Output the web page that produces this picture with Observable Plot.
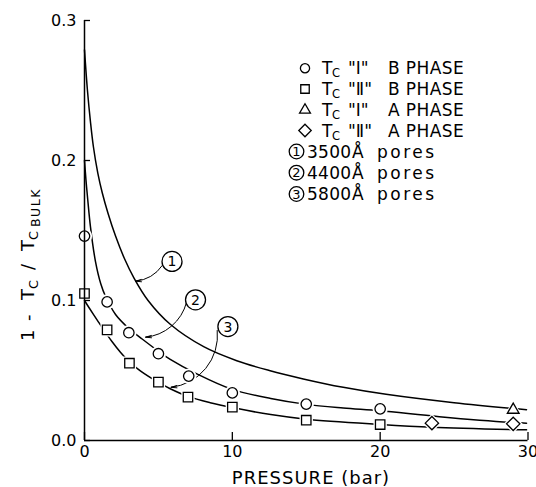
<!DOCTYPE html>
<html><head><meta charset="utf-8">
<script src="https://cdn.jsdelivr.net/npm/d3@7"></script>
<script src="https://cdn.jsdelivr.net/npm/@observablehq/plot@0.6"></script>
<style>
html,body{margin:0;padding:0;background:#fff;}
#chart{width:536px;height:487px;overflow:hidden;}
</style></head><body><div id="chart"></div>
<script>
// ---- data ----
const pB1 = [0, 1.53, 3, 5, 7.05, 10, 15, 20];
const yB1 = [0.146, 0.099, 0.077, 0.062, 0.046, 0.034, 0.026, 0.0226];
const pB2 = [0, 1.53, 3.04, 5, 7, 10, 15, 20];
const yB2 = [0.105, 0.079, 0.0552, 0.0417, 0.031, 0.0238, 0.0145, 0.0114];
const pA1 = [29];
const yA1 = [0.0219];
const pA2 = [23.5, 29];
const yA2 = [0.0124, 0.0119];

const c1P = [0, 0.2, 0.4, 0.6, 0.9, 1.2, 1.6, 2.1, 2.7, 3.35, 4.3, 5.8, 8.06, 10.3, 12.5, 14.8, 17.5, 20.4, 25, 29.9];
const c1Y = [0.279, 0.25, 0.228, 0.21, 0.191, 0.177, 0.162, 0.146, 0.13, 0.116, 0.1, 0.083, 0.067, 0.057, 0.05, 0.044, 0.038, 0.033, 0.027, 0.022];
const c2P = [0, 0.1, 0.22, 0.4, 0.74, 1.1, 1.42, 2.1, 3, 3.9, 5.1, 5.8, 7.6, 10, 12.6, 15, 17.5, 20, 24, 29, 29.9];
const c2Y = [0.2, 0.186, 0.172, 0.153, 0.128, 0.112, 0.103, 0.09, 0.08, 0.0725, 0.063, 0.058, 0.0476, 0.0365, 0.03, 0.0258, 0.0232, 0.0212, 0.017, 0.0128, 0.0124];
const c3P = [0, 0.3, 0.86, 1.3, 1.87, 2.43, 3, 3.8, 5, 5.8, 7, 8.5, 10, 12.6, 15, 20, 23.5, 29.9];
const c3Y = [0.1, 0.095, 0.086, 0.079, 0.0705, 0.063, 0.0565, 0.0495, 0.0415, 0.037, 0.0315, 0.027, 0.0235, 0.0185, 0.0152, 0.0115, 0.0095, 0.0076];

const curveNames = ["1", "2", "3"];
const labelP = [5.92, 7.51, 9.7];
const labelY = [0.1279, 0.1005, 0.0814];
const arrowFromP = [5.26, 6.9, 8.98];
const arrowFromY = [0.125, 0.0986, 0.0786];
const arrowToP = [3.45, 4.13, 5.85];
const arrowToY = [0.1138, 0.0738, 0.038];
const arrowBend = [25, 35, 45];

const xTicks = [0, 10, 20, 30];
const yTicks = [0, 0.1, 0.2, 0.3];

const legendSymbols = ["circle", "square2", "triangle2", "diamond2"];
const legendNumeral = ["Ⅰ", "Ⅱ", "Ⅰ", "Ⅱ"];
const legendPhase = ["B PHASE", "B PHASE", "A PHASE", "A PHASE"];
const poreSizes = ["3500", "4400", "5800"];

// ---- build tables ----
const symR = {circle: 5.2, square2: 6.0, triangle2: 5.6, diamond2: 6.0};
const zip = (ps, ys, extra) => ps.map((p, i) => ({p, y: ys[i], ...extra}));
const points = [
  ...zip(pB1, yB1, {s: "circle"}),
  ...zip(pB2, yB2, {s: "square2"}),
  ...zip(pA1, yA1, {s: "triangle2"}),
  ...zip(pA2, yA2, {s: "diamond2"})
];
points.forEach(d => d.r = symR[d.s]);
const curves = [
  ...zip(c1P, c1Y, {c: "1"}),
  ...zip(c2P, c2Y, {c: "2"}),
  ...zip(c3P, c3Y, {c: "3"})
];
const labels = curveNames.map((n, i) => ({n, p: labelP[i], y: labelY[i]}));
const arrows = curveNames.map((n, i) => ({x1: arrowFromP[i], y1: arrowFromY[i], x2: arrowToP[i], y2: arrowToY[i], bend: arrowBend[i]}));

const plot = Plot.plot({
  width: 536,
  height: 487,
  marginLeft: 84,
  marginRight: 8.5,
  marginTop: 20,
  marginBottom: 47,
  style: {fontFamily: "DejaVu Sans", fontSize: "16px", background: "white", color: "black", overflow: "visible"},
  x: {domain: [0, 30]},
  y: {domain: [0, 0.3]},
  r: {type: "identity"},
  marks: [
    Plot.line(curves, {x: "p", y: "y", z: "c", curve: "catmull-rom", stroke: "black", strokeWidth: 1.5}),
    ...arrows.map(a => Plot.arrow([a], {x1: "x1", y1: "y1", x2: "x2", y2: "y2", bend: a.bend, headLength: 9, headAngle: 22, stroke: "black", strokeWidth: 1})),
    Plot.dot(points, {x: "p", y: "y", symbol: "s", r: d => d.r + 2.5, fill: "white", stroke: null}),
    Plot.dot(points, {x: "p", y: "y", symbol: "s", r: "r", fill: "white", stroke: "black", strokeWidth: 1.3}),
    Plot.dot(labels, {x: "p", y: "y", r: 10, fill: "white", stroke: "black", strokeWidth: 1.3}),
    Plot.text(labels, {x: "p", y: "y", text: "n", fontSize: 14, dy: 0.5}),
    Plot.ruleX([0], {strokeWidth: 1.5}),
    Plot.ruleY([0], {strokeWidth: 1.5}),
    Plot.axisY({ticks: yTicks, tickFormat: d3.format(".1f"), tickSize: -6, tickPadding: 14, label: null, strokeWidth: 1.3}),
    Plot.axisX({ticks: xTicks, tickFormat: d3.format("d"), tickSize: -8, tickPadding: 13, label: null, strokeWidth: 1.3})
  ]
});

document.getElementById("chart").appendChild(plot);

// ---- legend, axis titles (text with subscripts) ----
const svg = d3.select(plot);
const g = svg.append("g").attr("font-family", "DejaVu Sans").attr("fill", "black").attr("text-anchor", "start");
const rowY = [68.3, 89, 110, 130.5, 151.5, 172.7, 194];
const symGen = {circle: d3.symbolCircle, square2: d3.symbolSquare2, triangle2: d3.symbolTriangle2, diamond2: d3.symbolDiamond2};
const legR = {circle: 4.6, square2: 5.4, triangle2: 5.2, diamond2: 5.6};
legendSymbols.forEach((s, i) => {
  const cy = rowY[i];
  g.append("path")
    .attr("d", d3.symbol(symGen[s], Math.PI * legR[s] * legR[s])())
    .attr("transform", `translate(305,${cy})`)
    .attr("fill", "white").attr("stroke", "black").attr("stroke-width", 1.3);
  const base = cy + 6;
  g.append("text").attr("x", 322).attr("y", base).attr("font-size", 17).text("T");
  g.append("text").attr("x", 332).attr("y", base + 3).attr("font-size", 11.5).text("C");
  g.append("text").attr("x", 348).attr("y", base).attr("font-size", 17).text(`"${legendNumeral[i]}"`);
  g.append("text").attr("x", 388).attr("y", base).attr("font-size", 17).attr("letter-spacing", 0.4).text(legendPhase[i]);
});
poreSizes.forEach((s, i) => {
  const cy = rowY[4 + i];
  g.append("circle").attr("cx", 296.5).attr("cy", cy).attr("r", 7.3)
    .attr("fill", "white").attr("stroke", "black").attr("stroke-width", 1.3);
  g.append("text").attr("x", 296.5).attr("y", cy + 4.6).attr("text-anchor", "middle").attr("font-size", 13).text(String(i + 1));
  g.append("text").attr("x", 307).attr("y", cy + 6).attr("font-size", 17).attr("letter-spacing", 0.3).text(s);
  g.append("text").attr("x", 352).attr("y", cy + 6).attr("font-size", 17).text("Å");
  g.append("text").attr("x", 377).attr("y", cy + 6).attr("font-size", 17).attr("letter-spacing", 2.5).text("pores");
});

// x title
g.append("text").attr("x", 311).attr("y", 484).attr("text-anchor", "middle")
  .attr("font-size", 18).attr("letter-spacing", 1).text("PRESSURE (bar)");

// y title (rotated)
const yt = g.append("text").attr("transform", "translate(34,341) rotate(-90)").attr("font-size", 18);
yt.append("tspan").attr("x", 0).attr("y", 0).text("1");
yt.append("tspan").attr("x", 20).attr("y", 0).text("-");
yt.append("tspan").attr("x", 41).attr("y", 0).text("T");
yt.append("tspan").attr("x", 52).attr("y", 4).attr("font-size", 13).text("C");
yt.append("tspan").attr("x", 71).attr("y", 0).text("/");
yt.append("tspan").attr("x", 90).attr("y", 0).text("T");
yt.append("tspan").attr("x", 101).attr("y", 4).attr("font-size", 13).text("C");
yt.append("tspan").attr("x", 114).attr("y", 6).attr("font-size", 12.5).attr("letter-spacing", 1.5).text("BULK");
</script></body></html>
